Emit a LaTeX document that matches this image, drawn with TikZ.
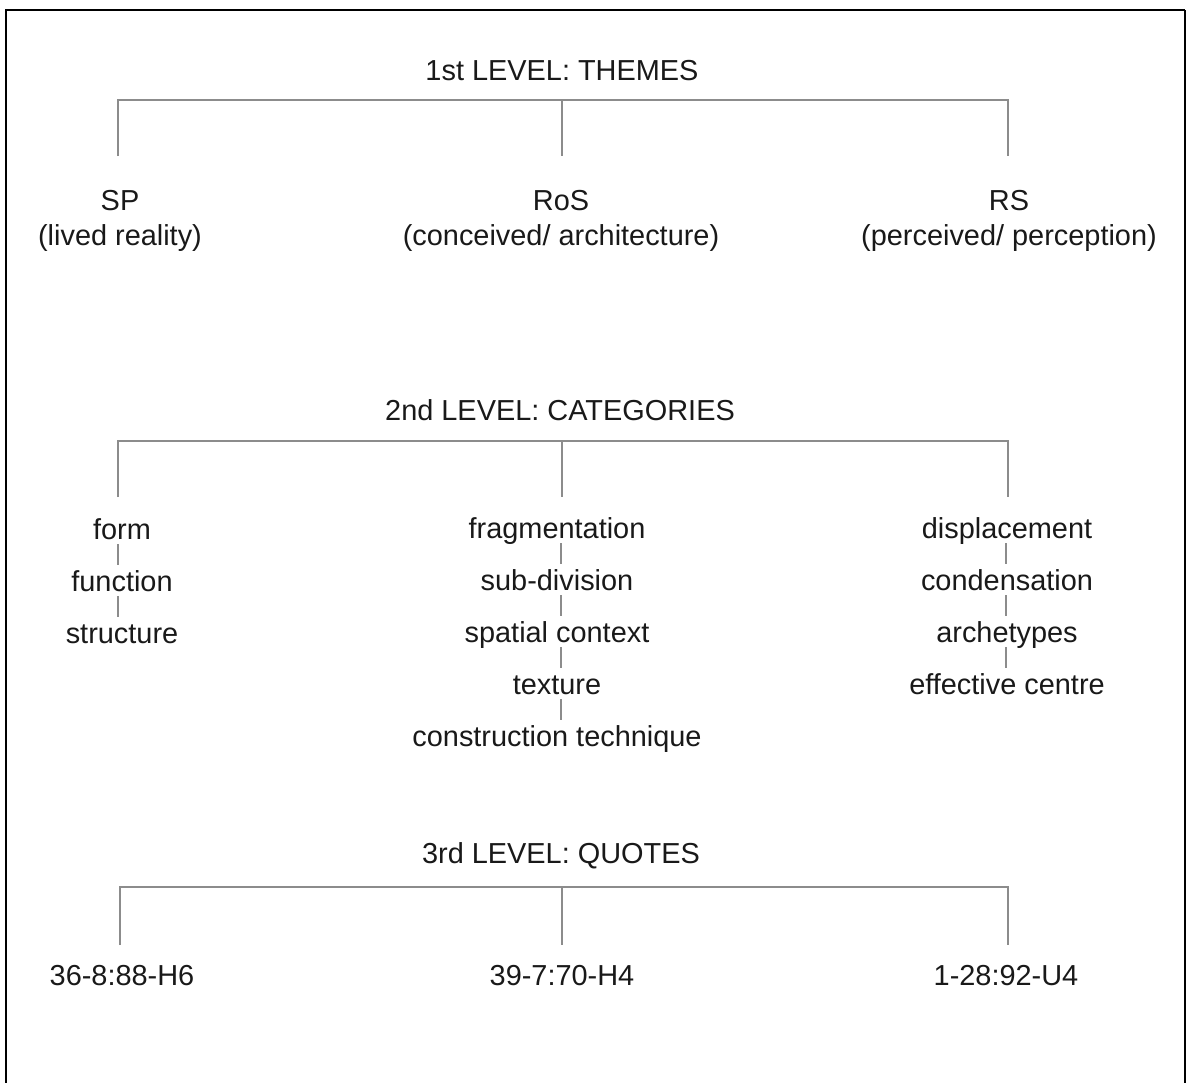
\documentclass[tikz,border=0pt]{standalone}
\usepackage{fontspec}
\setmainfont{Liberation Sans}
\begin{document}
\begin{tikzpicture}[x=0.5pt,y=-0.5pt,
  lbl/.style={font=\fontsize{14.45}{17}\selectfont, text=black!90, inner xsep=0pt, inner ysep=2.5pt, text height=10.5pt, text depth=0pt, anchor=base},
  conn/.style={draw=black!45, line width=0.7pt},
  frameline/.style={draw=black, line width=1.3pt}]
\useasboundingbox (0,0) rectangle (1187,1082);
\begin{scope}
  \clip (0,0) rectangle (1187,1082);
  \draw[frameline] (6,1100) -- (6,10) -- (1185,10);
  \draw[black, line width=0.8pt] (1185,10) -- (1185,1100);
\end{scope}

% ---------- level 1
\node[lbl] (t1) at (562,80) {1st LEVEL: THEMES};
\coordinate (b1L) at (118,100);
\coordinate (b1M) at (562,100);
\coordinate (b1R) at (1008,100);
\coordinate (e1L) at (118,156);
\coordinate (e1M) at (562,156);
\coordinate (e1R) at (1008,156);
\draw[conn] (e1L) -- (b1L) -- (b1R) -- (e1R);
\draw[conn] (b1M) -- (e1M);

\node[lbl] (sp)  at (120,210) {SP};
\node[lbl] (spd) at (120,245) {(lived reality)};
\node[lbl] (ros)  at (561,210) {RoS};
\node[lbl] (rosd) at (561,245) {(conceived/ architecture)};
\node[lbl] (rs)  at (1009,210) {RS};
\node[lbl] (rsd) at (1009,245) {(perceived/ perception)};

% ---------- level 2
\node[lbl] (t2) at (560,420) {2nd LEVEL: CATEGORIES};
\coordinate (b2L) at (118,441);
\coordinate (b2M) at (562,441);
\coordinate (b2R) at (1008,441);
\coordinate (e2L) at (118,497);
\coordinate (e2M) at (562,497);
\coordinate (e2R) at (1008,497);
\draw[conn] (e2L) -- (b2L) -- (b2R) -- (e2R);
\draw[conn] (b2M) -- (e2M);

\node[lbl] (form) at (122,539) {form};
\node[lbl] (func) at (122,591) {function};
\node[lbl] (stru) at (122,643) {structure};
\draw[conn] (form.south -| e2L) -- (func.north -| e2L);
\draw[conn] (func.south -| e2L) -- (stru.north -| e2L);

\coordinate (m2) at (561,497);
\node[lbl] (frag) at (557,538) {fragmentation};
\node[lbl] (subd) at (557,590) {sub-division};
\node[lbl] (spat) at (557,642) {spatial context};
\node[lbl] (text) at (557,694) {texture};
\node[lbl] (cons) at (557,746) {construction technique};
\draw[conn] (frag.south -| m2) -- (subd.north -| m2);
\draw[conn] (subd.south -| m2) -- (spat.north -| m2);
\draw[conn] (spat.south -| m2) -- (text.north -| m2);
\draw[conn] (text.south -| m2) -- (cons.north -| m2);

\coordinate (r2) at (1006,497);
\node[lbl] (disp) at (1007,538) {displacement};
\node[lbl] (cond) at (1007,590) {condensation};
\node[lbl] (arch) at (1007,642) {archetypes};
\node[lbl] (effc) at (1007,694) {effective centre};
\draw[conn] (disp.south -| r2) -- (cond.north -| r2);
\draw[conn] (cond.south -| r2) -- (arch.north -| r2);
\draw[conn] (arch.south -| r2) -- (effc.north -| r2);

% ---------- level 3
\node[lbl] (t3) at (561,863) {3rd LEVEL: QUOTES};
\coordinate (b3L) at (120,887);
\coordinate (b3M) at (562,887);
\coordinate (b3R) at (1008,887);
\coordinate (e3L) at (120,945);
\coordinate (e3M) at (562,945);
\coordinate (e3R) at (1008,945);
\draw[conn] (e3L) -- (b3L) -- (b3R) -- (e3R);
\draw[conn] (b3M) -- (e3M);

\node[lbl] (q1) at (122,985) {36-8:88-H6};
\node[lbl] (q2) at (562,985) {39-7:70-H4};
\node[lbl] (q3) at (1006,985) {1-28:92-U4};
\end{tikzpicture}
\end{document}
